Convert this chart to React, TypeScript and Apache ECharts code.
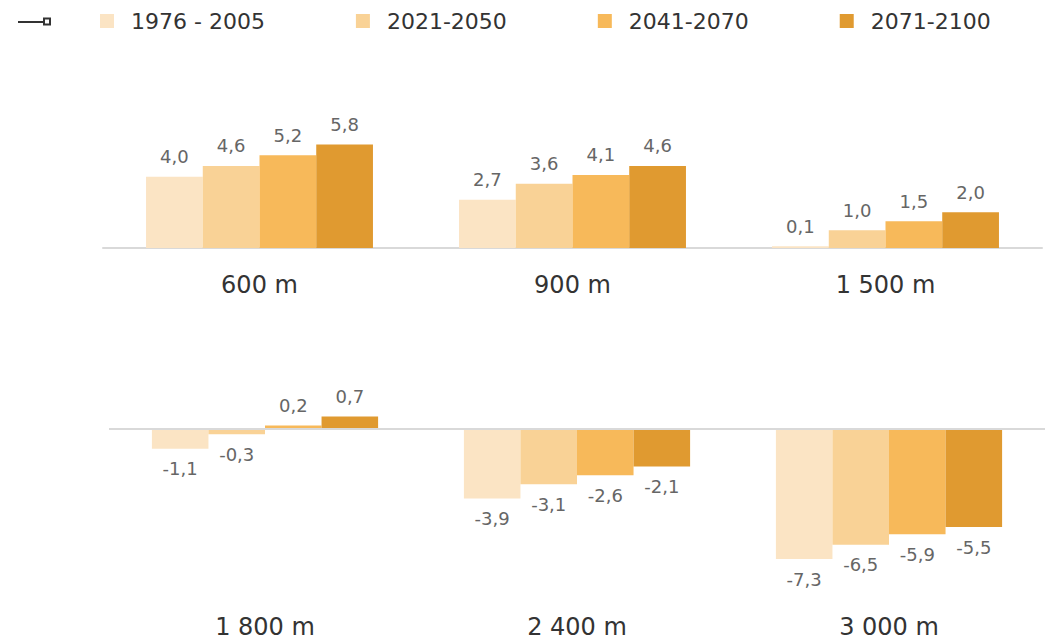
import React, { useEffect, useRef } from "react";
import * as echarts from "echarts";

const seriesNames = ["1976 - 2005", "2021-2050", "2041-2070", "2071-2100"];
const colors = ["#FBE4C4", "#F9D296", "#F7B95A", "#E09A30"];

const topCategories = ["600 m", "900 m", "1 500 m"];
const bottomCategories = ["1 800 m", "2 400 m", "3 000 m"];

const top1976 = [4.0, 2.7, 0.1];
const top2021 = [4.6, 3.6, 1.0];
const top2041 = [5.2, 4.1, 1.5];
const top2071 = [5.8, 4.6, 2.0];

const bottom1976 = [-1.1, -3.9, -7.3];
const bottom2021 = [-0.3, -3.1, -6.5];
const bottom2041 = [0.2, -2.6, -5.9];
const bottom2071 = [0.7, -2.1, -5.5];

const topValues = [top1976, top2021, top2041, top2071];
const bottomValues = [bottom1976, bottom2021, bottom2041, bottom2071];

const FONT = "DejaVu Sans";

function makeData(vals: number[]) {
  return vals.map((v) => ({
    value: v,
    label: { position: v >= 0 ? "top" : "bottom" },
  }));
}

export default function App() {
  const ref = useRef<HTMLDivElement>(null);

  useEffect(() => {
    document.body.style.margin = "0";
    if (!ref.current) return;
    const chart = echarts.init(ref.current, undefined, { renderer: "svg" });

    const labelCfg = {
      show: true,
      distance: 11,
      color: "#666666",
      fontSize: 18,
      fontFamily: FONT,
      formatter: (p: any) => Number(p.value).toFixed(1).replace(".", ","),
    };

    const series: any[] = [];
    seriesNames.forEach((name, i) => {
      series.push({
        name,
        type: "bar",
        xAxisIndex: 0,
        yAxisIndex: 0,
        data: makeData(topValues[i]),
        itemStyle: { color: colors[i] },
        barGap: "0%",
        barCategoryGap: "27.5%",
        label: labelCfg,
      });
    });
    seriesNames.forEach((name, i) => {
      const s: any = {
        name,
        type: "bar",
        xAxisIndex: 1,
        yAxisIndex: 1,
        data: makeData(bottomValues[i]),
        itemStyle: { color: colors[i] },
        barGap: "0%",
        barCategoryGap: "27.5%",
        label: labelCfg,
      };
      if (i === 0) {
        s.markLine = {
          silent: true,
          symbol: "none",
          label: { show: false },
          lineStyle: { color: "#d9d9d9", width: 2, type: "solid" },
          data: [{ yAxis: 0 }],
        };
      }
      series.push(s);
    });

    chart.setOption({
      animation: false,
      legend: {
        left: 95,
        top: 5,
        itemWidth: 14,
        itemHeight: 14,
        itemGap: 91,
        icon: "rect",
        data: seriesNames,
        textStyle: {
          color: "#333333",
          fontSize: 22,
          fontFamily: FONT,
          padding: [0, 0, 0, 12],
        },
      },
      graphic: [
        {
          type: "line",
          shape: { x1: 18, y1: 22, x2: 45, y2: 22 },
          style: { stroke: "#333333", lineWidth: 2 },
        },
        {
          type: "rect",
          shape: { x: 44, y: 18.5, width: 6, height: 6 },
          style: { fill: "#ffffff", stroke: "#333333", lineWidth: 2 },
        },
      ],
      grid: [
        { left: 103, width: 939, top: 141, height: 107 },
        { left: 109, width: 939, top: 411.2, height: 160.4 },
      ],
      xAxis: [
        {
          type: "category",
          gridIndex: 0,
          data: topCategories,
          axisLine: { show: true, lineStyle: { color: "#d9d9d9", width: 2 } },
          axisTick: { show: false },
          axisLabel: { color: "#333333", fontSize: 24, fontFamily: FONT, margin: 25 },
        },
        {
          type: "category",
          gridIndex: 1,
          data: bottomCategories,
          axisLine: { show: false, onZero: false },
          axisTick: { show: false },
          axisLabel: { color: "#333333", fontSize: 24, fontFamily: FONT, margin: 43 },
        },
      ],
      yAxis: [
        { type: "value", gridIndex: 0, min: 0, max: 6, show: false, splitLine: { show: false } },
        { type: "value", gridIndex: 1, min: -8, max: 1, show: false, splitLine: { show: false } },
      ],
      series,
    });

    return () => chart.dispose();
  }, []);

  return <div ref={ref} style={{ width: 1045, height: 641 }} />;
}
